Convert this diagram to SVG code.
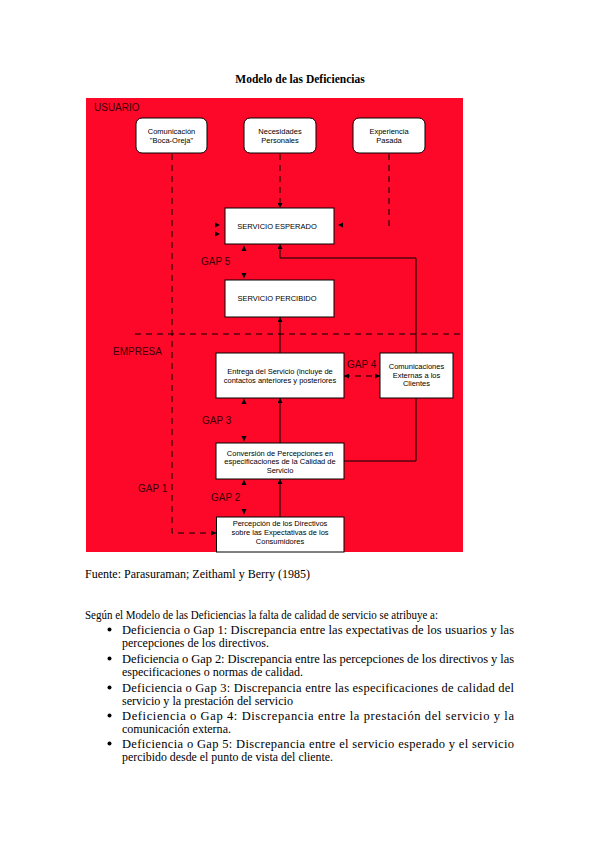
<svg xmlns="http://www.w3.org/2000/svg" width="599" height="848" viewBox="0 0 599 848">
<style>
.bg{fill:#fe0829}
.box{fill:#fff;stroke:#000;stroke-width:1}
.bt{font-family:"Liberation Sans",Arial,sans-serif;font-size:7.5px;fill:#000;text-anchor:middle}
.lbl{font-family:"Liberation Sans",Arial,sans-serif;font-size:10px;fill:#3a0008}
.ln{fill:none;stroke:#000;stroke-width:1}
.dl{fill:none;stroke:#000;stroke-width:1;stroke-dasharray:6,5}
.ah{fill:#000}
.tx{font-family:"Liberation Serif","Times New Roman",serif;font-size:12.5px;fill:#000}
</style>
<defs>
<marker id="arr" viewBox="0 0 10 10" refX="10" refY="5" markerWidth="5" markerHeight="5" orient="auto-start-reverse" markerUnits="userSpaceOnUse">
<path d="M0,0 L10,5 L0,10 z" fill="#000"/>
</marker>
</defs>
<rect width="599" height="848" fill="#fff"/>
<text x="300" y="83" text-anchor="middle" font-family="Liberation Serif,'Times New Roman',serif" font-size="11.5" font-weight="bold" fill="#000">Modelo de las Deficiencias</text>
<rect class="bg" x="86" y="98" width="377" height="454"/>
<text class="lbl" x="94" y="111" font-size="9.5">USUARIO</text>
<text class="lbl" x="113" y="355">EMPRESA</text>
<text class="lbl" x="201" y="265">GAP 5</text>
<text class="lbl" x="347" y="368">GAP 4</text>
<text class="lbl" x="202" y="424">GAP 3</text>
<text class="lbl" x="211" y="501">GAP 2</text>
<text class="lbl" x="138" y="492">GAP 1</text>
<g id="connectors">
<path class="dl" d="M135,334 H461"/>
<path class="dl" d="M172,154 V533 H216" marker-end="url(#arr)"/>
<path class="dl" d="M280,154 V208" marker-end="url(#arr)"/>
<path class="dl" d="M389,154 V226"/>
<path class="dl" d="M344,376 H380" marker-start="url(#arr)" marker-end="url(#arr)" stroke-dasharray="5,4"/>
<path class="ln" d="M344,461 H416 V258 H280 V244" marker-end="url(#arr)"/>
<path class="ln" d="M280,353 V317" marker-end="url(#arr)"/>
<path class="ln" d="M280,443 V398" marker-end="url(#arr)"/>
<path class="ln" d="M280,517 V479" marker-end="url(#arr)"/>
<path class="ah" d="M215,222.5 L220,225 L215,227.5 z"/>
<path class="ah" d="M215,231.5 L220,234 L215,236.5 z"/>
<path class="ah" d="M343,222.5 L338,225 L343,227.5 z"/>
<path class="ah" d="M241.5,251 L244,245.5 L246.5,251 z"/>
<path class="ah" d="M241.5,273 L244,278.5 L246.5,273 z"/>
<path class="ah" d="M241.5,404 L244,398.5 L246.5,404 z"/>
<path class="ah" d="M241.5,436 L244,441.5 L246.5,436 z"/>
<path class="ah" d="M241.5,485 L244,479.5 L246.5,485 z"/>
<path class="ah" d="M241.5,509 L244,514.5 L246.5,509 z"/>
</g>
<g id="n-boca">
<rect class="box" x="136" y="118" width="71" height="35" rx="6"/>
<text class="bt" x="171.5" y="133.5">Comunicación</text>
<text class="bt" x="171.5" y="142.5">"Boca-Oreja"</text>
</g>
<g id="n-necesidades">
<rect class="box" x="244" y="118" width="72" height="35" rx="6"/>
<text class="bt" x="280" y="133.5">Necesidades</text>
<text class="bt" x="280" y="142.5">Personales</text>
</g>
<g id="n-experiencia">
<rect class="box" x="353" y="118" width="72" height="35" rx="6"/>
<text class="bt" x="389" y="133.5">Experiencia</text>
<text class="bt" x="389" y="142.5">Pasada</text>
</g>
<g id="n-esperado">
<rect class="box" x="225" y="208" width="109" height="36"/>
<text class="bt" x="277" y="228.5">SERVICIO ESPERADO</text>
</g>
<g id="n-percibido">
<rect class="box" x="225" y="280" width="109" height="37"/>
<text class="bt" x="277" y="301">SERVICIO PERCIBIDO</text>
</g>
<g id="n-entrega">
<rect class="box" x="216" y="353" width="128" height="45"/>
<text class="bt" x="280" y="374">Entrega del Servicio (incluye de</text>
<text class="bt" x="280" y="383">contactos anteriores y posteriores</text>
</g>
<g id="n-comunicaciones">
<rect class="box" x="380" y="353" width="73" height="45"/>
<text class="bt" x="416.5" y="369">Comunicaciones</text>
<text class="bt" x="416.5" y="377.5">Externas a los</text>
<text class="bt" x="416.5" y="386">Clientes</text>
</g>
<g id="n-conversion">
<rect class="box" x="216" y="443" width="128" height="36"/>
<text class="bt" x="280" y="455.5">Conversión de Percepciones en</text>
<text class="bt" x="280" y="464">especificaciones de la Calidad de</text>
<text class="bt" x="280" y="472.5">Servicio</text>
</g>
<g id="n-percepcion">
<rect class="box" x="216.5" y="517" width="127.5" height="35"/>
<text class="bt" x="280" y="526">Percepción de los Directivos</text>
<text class="bt" x="280" y="535">sobre las Expectativas de los</text>
<text class="bt" x="280" y="544">Consumidores</text>
</g>
<text class="tx" x="85" y="578" textLength="225" lengthAdjust="spacingAndGlyphs">Fuente: Parasuraman; Zeithaml y Berry (1985)</text>
<text class="tx" x="85" y="619" textLength="353" lengthAdjust="spacingAndGlyphs">Según el Modelo de las Deficiencias la falta de calidad de servicio se atribuye a:</text>
<g fill="#000">
<circle cx="109.5" cy="629.5" r="2"/>
<circle cx="109.5" cy="658.5" r="2"/>
<circle cx="109.5" cy="687.5" r="2"/>
<circle cx="109.5" cy="715.5" r="2"/>
<circle cx="109.5" cy="743.5" r="2"/>
</g>
<text class="tx" x="122" y="634" textLength="392" lengthAdjust="spacing">Deficiencia o Gap 1: Discrepancia entre las expectativas de los usuarios y las</text>
<text class="tx" x="122" y="647" textLength="147" lengthAdjust="spacingAndGlyphs">percepciones de los directivos.</text>
<text class="tx" x="122" y="663" textLength="392" lengthAdjust="spacing">Deficiencia o Gap 2: Discrepancia entre las percepciones de los directivos y las</text>
<text class="tx" x="122" y="676" textLength="181" lengthAdjust="spacingAndGlyphs">especificaciones o normas de calidad.</text>
<text class="tx" x="122" y="692" textLength="392" lengthAdjust="spacing">Deficiencia o Gap 3: Discrepancia entre las especificaciones de calidad del</text>
<text class="tx" x="122" y="705" textLength="171" lengthAdjust="spacingAndGlyphs">servicio y la prestación del servicio</text>
<text class="tx" x="122" y="720" textLength="392" lengthAdjust="spacing">Deficiencia o Gap 4: Discrepancia entre la prestación del servicio y la</text>
<text class="tx" x="122" y="733" textLength="109" lengthAdjust="spacingAndGlyphs">comunicación externa.</text>
<text class="tx" x="122" y="748" textLength="392" lengthAdjust="spacing">Deficiencia o Gap 5: Discrepancia entre el servicio esperado y el servicio</text>
<text class="tx" x="122" y="761" textLength="211" lengthAdjust="spacingAndGlyphs">percibido desde el punto de vista del cliente.</text>
</svg>
